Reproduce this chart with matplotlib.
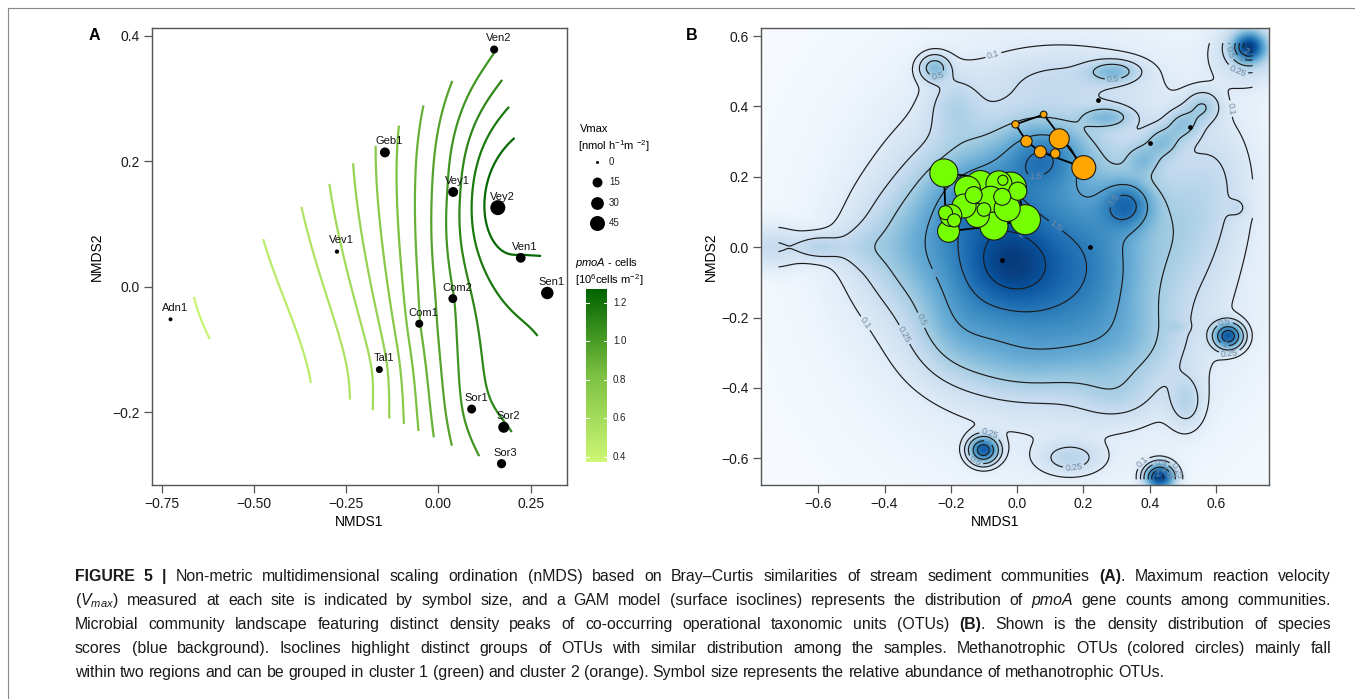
import numpy as np
import matplotlib
matplotlib.use('Agg')
import matplotlib.pyplot as plt
from matplotlib.path import Path
from matplotlib.colors import LinearSegmentedColormap, Normalize, PowerNorm
import re

plt.rcParams['font.family'] = ['Liberation Sans', 'DejaVu Sans']
plt.rcParams['mathtext.fontset'] = 'custom'
plt.rcParams['mathtext.rm'] = 'Liberation Sans'
plt.rcParams['mathtext.it'] = 'Liberation Sans:italic'
plt.rcParams['mathtext.bf'] = 'Liberation Sans:bold'

W, H = 1355, 699

# ---------------- panel A data: site scores, Vmax, pmoA ----------------
sites = ['Ven2', 'Geb1', 'Vey1', 'Vey2', 'Ven1', 'Sen1', 'Vev1', 'Adn1',
         'Com2', 'Com1', 'Tal1', 'Sor1', 'Sor2', 'Sor3']
site_x = [0.151, -0.145, 0.040, 0.161, 0.223, 0.295, -0.275, -0.726,
          0.039, -0.052, -0.160, 0.090, 0.177, 0.171]
site_y = [0.378, 0.214, 0.151, 0.126, 0.046, -0.010, 0.056, -0.052,
          -0.019, -0.059, -0.132, -0.195, -0.224, -0.282]
vmax = [8, 15, 15, 45, 14, 28, 0.5, 0.3, 11, 8, 5, 11, 20, 12]
pmoa = [1.03, 0.785, 1.065, 1.30, 1.24, 1.205, 0.60, 0.385,
        1.03, 0.89, 0.645, 1.065, 1.10, 1.065]
vmax_legend = [0, 15, 30, 45]
pmoa_ticks = [0.4, 0.6, 0.8, 1.0, 1.2]

# ---------------- panel B data ----------------
# density peaks of OTU species scores: centre, spread, height
peak_x = [-0.02, -0.02, -0.12, 0.08, 0.10, 0.33, 0.25, -0.30, 0.02, 0.32, -0.18,
          0.12, -0.60, -0.74, -0.47, -0.25, -0.19, 0.29, 0.27, 0.15,
          0.38, 0.44, 0.50, 0.56, 0.60, 0.50, 0.30,
          0.637, -0.102, 0.43, 0.70, 0.70, 0.16, 0.51, 0.667, 0.485]
peak_y = [-0.05, 0.02, 0.14, 0.26, -0.18, 0.12, -0.03, 0.00, -0.32, -0.28, -0.22,
          0.00, 0.00, 0.00, 0.00, 0.51, 0.40, 0.50, 0.37, 0.48,
          0.25, 0.30, 0.35, 0.40, 0.20, 0.05, -0.42,
          -0.253, -0.577, -0.655, 0.57, 0.56, -0.60, -0.44, 0.112, -0.226]
peak_sx = [0.10, 0.19, 0.10, 0.08, 0.18, 0.05, 0.10, 0.12, 0.15, 0.12, 0.08,
           0.30, 0.05, 0.06, 0.06, 0.03, 0.05, 0.05, 0.05, 0.15,
           0.035, 0.035, 0.035, 0.035, 0.07, 0.08, 0.08,
           0.027, 0.027, 0.027, 0.03, 0.07, 0.06, 0.035, 0.02, 0.02]
peak_sy = [0.08, 0.17, 0.08, 0.06, 0.10, 0.045, 0.12, 0.10, 0.07, 0.08, 0.08,
           0.30, 0.025, 0.04, 0.04, 0.025, 0.06, 0.02, 0.02, 0.05,
           0.03, 0.03, 0.03, 0.03, 0.12, 0.12, 0.05,
           0.023, 0.023, 0.023, 0.026, 0.06, 0.03, 0.05, 0.018, 0.01]
peak_h = [0.8, 1.0, 0.5, 0.9, 0.45, 1.1, 0.45, 0.35, 0.3, 0.3, 0.3,
          0.45, 0.3, 0.25, 0.15, 0.6, 0.25, 0.55, 0.5, 0.15,
          0.4, 0.45, 0.45, 0.4, 0.15, 0.2, 0.2,
          1.8, 1.8, 2.2, 2.0, 0.35, 0.3, 0.3, 0.13, 0.12]
dens_levels = [0.1, 0.25, 0.5, 1, 1.5, 2]

dot_x = [0.243, 0.400, 0.219, -0.045, 0.520]
dot_y = [0.417, 0.297, 0.000, -0.037, 0.342]

green_x = [-0.221, -0.150, -0.111, -0.055, -0.020, -0.043, 0.002, -0.131, -0.045, -0.100,
           -0.160, -0.200, -0.190, -0.207, -0.070, 0.025, -0.030, -0.080, -0.216, -0.120]
green_y = [0.211, 0.165, 0.175, 0.180, 0.168, 0.190, 0.159, 0.148, 0.143, 0.107,
           0.117, 0.090, 0.076, 0.045, 0.060, 0.078, 0.110, 0.136, 0.098, 0.090]
green_ab = [0.77, 0.66, 0.88, 0.66, 1.00, 0.10, 0.32, 0.28, 0.28, 0.18,
            0.56, 0.47, 0.17, 0.47, 0.77, 0.88, 0.66, 0.66, 0.19, 0.56]
orange_x = [-0.005, 0.080, 0.028, 0.127, 0.070, 0.115, 0.201]
orange_y = [0.349, 0.377, 0.301, 0.308, 0.271, 0.266, 0.226]
orange_ab = [0.053, 0.043, 0.127, 0.39, 0.14, 0.086, 0.56]


def fig_axes(x0, y0, x1, y1):
    return fig.add_axes([x0 / W, 1 - y1 / H, (x1 - x0) / W, (y1 - y0) / H])


def hull(px, py):
    pts = sorted(set(zip(px, py)))
    def cross(o, a, b):
        return (a[0] - o[0]) * (b[1] - o[1]) - (a[1] - o[1]) * (b[0] - o[0])
    lower, upper = [], []
    for p in pts:
        while len(lower) >= 2 and cross(lower[-2], lower[-1], p) <= 0:
            lower.pop()
        lower.append(p)
    for p in reversed(pts):
        while len(upper) >= 2 and cross(upper[-2], upper[-1], p) <= 0:
            upper.pop()
        upper.append(p)
    return np.array(lower[:-1] + upper[:-1])


def tps_kernel(d):
    with np.errstate(divide='ignore', invalid='ignore'):
        k = d ** 2 * np.log(d)
    return np.where(d > 0, k, 0.0)


def density(X, Y):
    out = np.zeros_like(X)
    for x0, y0, s1, s2, h in zip(peak_x, peak_y, peak_sx, peak_sy, peak_h):
        out += h * np.exp(-0.5 * (((X - x0) / s1) ** 2 + ((Y - y0) / s2) ** 2))
    return out


def style_axis(ax):
    for s in ax.spines.values():
        s.set_color('#555555')
        s.set_linewidth(1.0)
    ax.tick_params(direction='out', length=5.5, width=0.9, color='#555555',
                   labelsize=10, pad=3, labelcolor='#1a1a1a')


fig = plt.figure(figsize=(W / 100, H / 100), dpi=100)

# ================= panel A =================
axA = fig_axes(151.7, 28.3, 566.7, 485)
sx = np.array(site_x)
sy = np.array(site_y)
z = np.array(pmoa)
n = len(sx)
d = np.hypot(sx[:, None] - sx[None, :], sy[:, None] - sy[None, :])
P = np.column_stack([np.ones(n), sx, sy])
A = np.zeros((n + 3, n + 3))
A[:n, :n] = tps_kernel(d) + 1e-6 * np.eye(n)
A[:n, n:] = P
A[n:, :n] = P.T
coef = np.linalg.solve(A, np.concatenate([z, np.zeros(3)]))
gx = np.linspace(-0.78, 0.35, 300)
gy = np.linspace(-0.32, 0.41, 220)
GX, GY = np.meshgrid(gx, gy)
dg = np.hypot(GX[..., None] - sx, GY[..., None] - sy)
GZ = tps_kernel(dg) @ coef[:n] + coef[n] + coef[n + 1] * GX + coef[n + 2] * GY
hp = Path(hull(site_x, site_y))
inside = hp.contains_points(np.column_stack([GX.ravel(), GY.ravel()]), radius=0.012)
GZ = np.ma.masked_where(~inside.reshape(GX.shape), GZ)

green_cmap = LinearSegmentedColormap.from_list('pm', ['#cdf775', '#7cc142', '#006400'])
pnorm = Normalize(0.375, 1.27)
axA.contour(GX, GY, GZ, levels=np.arange(0.405, 1.30, 0.07), cmap=green_cmap,
            norm=pnorm, linewidths=1.6)
dpx = 3 + 12 * np.sqrt(np.array(vmax) / 45)
axA.scatter(site_x, site_y, s=(0.72 * dpx) ** 2, color='black', linewidths=0, zorder=3)
for nm, x, y in zip(sites, site_x, site_y):
    axA.annotate(nm, (x, y), xytext=(3, 8), textcoords='offset points',
                 ha='center', va='center', fontsize=8, color='#111111')
axA.set_xlim(-0.777, 0.3476)
axA.set_ylim(-0.316, 0.4118)
axA.set_xticks([-0.75, -0.5, -0.25, 0, 0.25])
axA.set_xticklabels(['\u22120.75', '\u22120.50', '\u22120.25', '0.00', '0.25'])
axA.set_yticks([-0.2, 0, 0.2, 0.4])
axA.set_yticklabels(['\u22120.2', '0.0', '0.2', '0.4'])
style_axis(axA)

# pmoA colour bar
cb = fig_axes(586, 289.3, 606.7, 461.7)
grad = np.linspace(0.375, 1.27, 200)[:, None]
cb.imshow(grad, cmap=green_cmap, norm=pnorm, origin='lower', aspect='auto',
          extent=[0, 1, 0.375, 1.27])
for t in pmoa_ticks:
    cb.plot([0, 0.14], [t, t], color='white', lw=0.7)
    cb.plot([0.86, 1], [t, t], color='white', lw=0.7)
    cb.text(1.3, t, f'{t:.1f}', fontsize=7, va='center', ha='left', color='#222222')
cb.set_xlim(0, 1)
cb.set_ylim(0.375, 1.27)
cb.axis('off')

# ================= panel B =================
axB = fig_axes(760.7, 28.3, 1269.3, 485)
bx = np.linspace(-0.78, 0.77, 311)
by = np.linspace(-0.68, 0.63, 263)
BX, BY = np.meshgrid(bx, by)
axB.imshow(density(BX, BY), cmap='Blues', norm=PowerNorm(0.64, vmin=0, vmax=2.5),
           origin='lower', aspect='auto', extent=[bx[0], bx[-1], by[0], by[-1]],
           interpolation='bilinear')
# contour grid limited to the range of the species scores
cx_ = np.linspace(-0.72, 0.71, 290)
cy_ = np.linspace(-0.66, 0.58, 254)
CX, CY = np.meshgrid(cx_, cy_)
cs = axB.contour(CX, CY, density(CX, CY), levels=dens_levels, colors='#1c1c1c',
                 linewidths=0.85)
axB.clabel(cs, fmt='%g', fontsize=6.5, colors='#7189a0', inline=True, inline_spacing=2)
axB.scatter(dot_x, dot_y, s=12, color='black', linewidths=0, zorder=3)

for gxs, gys, ab, col in [(green_x, green_y, green_ab, '#76ff00'),
                          (orange_x, orange_y, orange_ab, '#ffa500')]:
    hv = hull(gxs, gys)
    hv = np.vstack([hv, hv[:1]])
    axB.plot(hv[:, 0], hv[:, 1], color='black', lw=1.3, zorder=4)
    order = np.argsort(ab)[::-1]
    axB.scatter(np.array(gxs)[order], np.array(gys)[order], s=531 * np.array(ab)[order],
                color=col, edgecolors='#1a1a1a', linewidths=0.8, zorder=5)

axB.set_xlim(-0.7735, 0.7606)
axB.set_ylim(-0.676, 0.622)
ticksB = [-0.6, -0.4, -0.2, 0, 0.2, 0.4, 0.6]
labsB = [f'{t:.1f}'.replace('-', '\u2212') for t in ticksB]
axB.set_xticks(ticksB)
axB.set_xticklabels(labsB)
axB.set_yticks(ticksB)
axB.set_yticklabels(labsB)
style_axis(axB)

# ================= overlay: labels, legends, caption =================
ov = fig.add_axes([0, 0, 1, 1])
ov.set_xlim(0, W)
ov.set_ylim(H, 0)
ov.axis('off')
ov.patch.set_alpha(0)
ov.plot([8, 8], [8, H], color='#888888', lw=0.8)
ov.plot([8, W], [8, 8], color='#888888', lw=0.8)

ov.text(94, 35, 'A', fontsize=11.5, fontweight='bold', ha='center', va='center')
ov.text(692, 35, 'B', fontsize=11.5, fontweight='bold', ha='center', va='center')
ov.text(359, 522, 'NMDS1', fontsize=10, ha='center', va='center')
ov.text(995, 522, 'NMDS1', fontsize=10, ha='center', va='center')
ov.text(97, 257, 'NMDS2', fontsize=10, ha='center', va='center', rotation=90)
ov.text(711, 257, 'NMDS2', fontsize=10, ha='center', va='center', rotation=90)

ov.text(580, 129, 'Vmax', fontsize=8, ha='left', va='center')
ov.text(578, 146, r'[nmol h$^{-1}$m $^{-2}$]', fontsize=8, ha='left', va='center')
leg_y = [161.7, 182.3, 202.7, 223.3]
dleg = 3 + 12 * np.sqrt(np.array(vmax_legend) / 45)
for v, yy, dd in zip(vmax_legend, leg_y, dleg):
    ov.plot(596.7, yy, 'o', color='black', markersize=0.72 * dd, mec='none')
    ov.text(609, yy, str(v), fontsize=7, ha='left', va='center', color='#222222')
ov.text(575, 263, r'$\mathit{pmoA}$ - cells', fontsize=8, ha='left', va='center')
ov.text(575, 280, r'[10$^{6}$cells m$^{-2}$]', fontsize=8, ha='left', va='center')

# justified caption
cap_lines = [
    "*FIGURE* *5* *|* Non-metric multidimensional scaling ordination (nMDS) based on Bray\u2013Curtis "
    "similarities of stream sediment communities *(A)*. Maximum reaction velocity",
    "($V_{max}$) measured at each site is indicated by symbol size, and a GAM model (surface isoclines) "
    "represents the distribution of %pmoA% gene counts among communities.",
    "Microbial community landscape featuring distinct density peaks of co-occurring operational "
    "taxonomic units (OTUs) *(B)*. Shown is the density distribution of species",
    "scores (blue background). Isoclines highlight distinct groups of OTUs with similar distribution "
    "among the samples. Methanotrophic OTUs (colored circles) mainly fall",
    "within two regions and can be grouped in cluster 1 (green) and cluster 2 (orange). Symbol size "
    "represents the relative abundance of methanotrophic OTUs.",
]
cap_base = [581, 605, 629, 653, 677]
cap_x0, cap_x1 = 75, 1331
cap_fs = 11.4
rend = fig.canvas.get_renderer()


def runs_of(word):
    out = []
    for part in re.findall(r'\*[^*]+\*|%[^%]+%|[^*%]+', word):
        if part.startswith('*'):
            out.append((part[1:-1], 'bold', 'normal'))
        elif part.startswith('%'):
            out.append((part[1:-1], 'normal', 'italic'))
        else:
            out.append((part, 'normal', 'normal'))
    return out


def width_of(txt, wt, st):
    t = fig.text(0, 0, txt, fontsize=cap_fs, fontweight=wt, fontstyle=st)
    w = t.get_window_extent(renderer=rend).width
    t.remove()
    return w


space_w = width_of('a a', 'normal', 'normal') - width_of('aa', 'normal', 'normal')
for i, (line, yb) in enumerate(zip(cap_lines, cap_base)):
    words = [runs_of(wd) for wd in line.split(' ')]
    widths = [[width_of(*r) for r in wd] for wd in words]
    total = sum(sum(w) for w in widths)
    gap = (cap_x1 - cap_x0 - total) / (len(words) - 1) if i < len(cap_lines) - 1 else space_w
    x = cap_x0
    for wd, ws in zip(words, widths):
        for (txt, wt, st), w in zip(wd, ws):
            fig.text(x / W, 1 - yb / H, txt, fontsize=cap_fs, fontweight=wt, fontstyle=st,
                     ha='left', va='baseline', color='#1a1a1a')
            x += w
        x += gap

fig.savefig('out.png', dpi=100)
